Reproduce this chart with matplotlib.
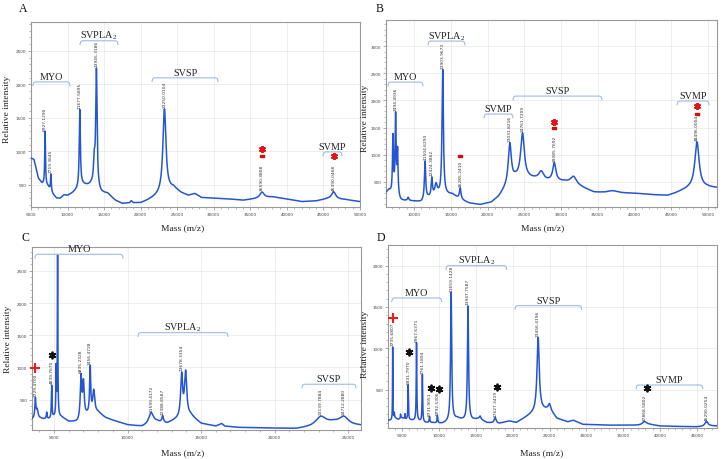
import numpy as np
import matplotlib
matplotlib.use('Agg')
import matplotlib.pyplot as plt
from matplotlib.ticker import FixedLocator, AutoMinorLocator

plt.rcParams['font.family'] = ['Liberation Serif', 'DejaVu Serif']
plt.rcParams['mathtext.fontset'] = 'custom'
plt.rcParams['mathtext.rm'] = 'Liberation Serif'
plt.rcParams['mathtext.it'] = 'Liberation Serif:italic'
plt.rcParams['mathtext.bf'] = 'Liberation Serif:bold'

# ================= Panel A =================
A_xlim = (5000, 50000)
A_ylim = (170, 2930)
A_xticks = [5000, 10000, 15000, 20000, 25000, 30000, 35000, 40000, 45000, 50000]
A_yticks = [500, 1000, 1500, 2000, 2500]
A_base_x = [5000, 5400, 6000, 6500, 7300, 8000, 8500, 9000, 9500, 10000, 10700, 11200, 12000,
            12800, 13300, 14600, 15500, 16500, 17500, 18500, 18700, 19000, 20000, 21000, 22000,
            24500, 25500, 26500, 27400, 28300, 30000, 32000, 34000, 35500, 38000, 40000, 42000,
            44000, 45500, 48000, 50000]
A_base_y = [900, 880, 600, 520, 480, 360, 300, 300, 350, 340, 380, 420, 500,
            490, 500, 380, 370, 270, 220, 230, 260, 230, 230, 270, 320,
            450, 380, 340, 370, 310, 300, 290, 270, 290, 320, 290, 250,
            260, 290, 280, 250]
A_peak_mz = [6927, 7719, 11677, 13650, 13945, 23250, 36590, 46390]
A_peak_amp = [800, 250, 1150, 350, 1750, 1250, 90, 110]
A_peak_w = [60, 60, 90, 120, 110, 250, 350, 350]
A_labels = ['6927.1290', '7719.3645', '11677.5895', '13945.3186', '23250.0104',
            '36590.3808', '46390.0468']
A_label_mz = [6927, 7719, 11677, 13945, 23250, 36590, 46390]
A_groups = ['MYO', 'SVPLA$_2$', 'SVSP', 'SVMP']
A_group_start = [5270, 11700, 21550, 44940]
A_group_end = [10330, 16900, 30580, 47540]
A_group_y = [2037, 2650, 2097, 992]
A_redbar_mz = [36590]
A_redbar_y = [933]
A_redstar_mz = [36650, 46390]
A_redstar_y = [1030, 930]
A_blackstar_mz = []
A_blackstar_y = []
A_plus_mz = []
A_plus_y = []

# ================= Panel B =================
B_xlim = (6190, 51220)
B_ylim = (40, 3480)
B_xticks = [10000, 15000, 20000, 25000, 30000, 35000, 40000, 45000, 50000]
B_yticks = [500, 1000, 1500, 2000, 2500, 3000]
B_base_x = [6190, 6600, 6900, 8200, 8600, 9500, 11000, 11800, 13300, 14500, 15200, 15800, 16800,
            17500, 19000, 20500, 21500, 22300, 23800, 25800, 26500, 28000, 30500, 32800, 34500,
            36000, 40000, 43000, 44500, 45500, 46500, 47500, 49800, 51220]
B_base_y = [300, 340, 280, 150, 150, 150, 130, 200, 250, 260, 270, 220, 150,
            110, 80, 120, 220, 350, 550, 560, 550, 520, 500, 400, 310,
            300, 290, 260, 250, 290, 340, 380, 400, 390]
B_peak_mz = [7140, 7494, 7760, 9200, 11504, 12424, 13000, 13903, 16285, 23031, 24761, 27300,
             29085, 31700, 37000, 48496]
B_peak_amp = [1050, 1450, 820, 60, 700, 330, 200, 2300, 200, 750, 830, 150, 330, 150, 40, 850]
B_peak_w = [80, 80, 80, 100, 100, 100, 200, 110, 120, 250, 300, 400, 250, 500, 800, 350]
B_labels = ['7494.4936', '11504.6293', '12424.3862', '13903.9673', '16285.2410',
            '23031.8216', '24761.7209', '29085.7692', '48496.0004']
B_label_mz = [7494, 11504, 12424, 13903, 16285, 23031, 24761, 29085, 48496]
B_groups = ['MYO', 'SVPLA$_2$', 'SVMP', 'SVSP', 'SVMP']
B_group_start = [6460, 11900, 19520, 23470, 45780]
B_group_end = [11220, 16940, 23470, 35580, 50140]
B_group_y = [2338, 3092, 1750, 2080, 1990]
B_redbar_mz = [16285, 29085, 48496]
B_redbar_y = [978, 1493, 1750]
B_redstar_mz = [29085, 48496]
B_redstar_y = [1610, 1900]
B_blackstar_mz = []
B_blackstar_y = []
B_plus_mz = []
B_plus_y = []

# ================= Panel C =================
C_xlim = (3500, 25880)
C_ylim = (30, 2870)
C_xticks = [5000, 10000, 15000, 20000, 25000]
C_yticks = [500, 1000, 1500, 2000, 2500]
C_base_x = [3500, 3900, 4300, 4700, 5000, 5500, 6000, 6600, 7200, 8000, 8500, 9000, 10000,
            11000, 11400, 12000, 12700, 13200, 14300, 15000, 16000, 16400, 16600, 17500,
            21500, 22500, 23800, 24000, 25300, 25880]
C_base_y = [200, 220, 200, 200, 230, 230, 160, 150, 250, 300, 220, 180, 110,
            80, 100, 150, 130, 180, 250, 130, 90, 130, 90, 70,
            50, 80, 140, 150, 110, 100]
C_peak_mz = [3729, 3850, 4500, 4839, 5140, 5240, 6835, 7000, 7456, 7700, 11599, 12388,
             13678, 13950, 23139, 24712]
C_peak_amp = [300, 120, 100, 500, 730, 2490, 650, 520, 720, 350, 180, 100, 650, 680, 130, 110]
C_peak_w = [40, 60, 30, 25, 20, 20, 60, 60, 45, 80, 200, 60, 80, 90, 400, 350]
C_labels = ['3729.4700', '4839.7670', '6835.2328', '7456.4728', '11599.4172', '12388.8587',
            '13678.3354', '23139.7884', '24712.2880']
C_label_mz = [3729, 4839, 6835, 7456, 11599, 12388, 13678, 23139, 24712]
C_groups = ['MYO', 'SVPLA$_2$', 'SVSP']
C_group_start = [3700, 10710, 21860]
C_group_end = [9690, 16830, 25540]
C_group_y = [2757, 1541, 740]
C_redbar_mz = []
C_redbar_y = []
C_redstar_mz = []
C_redstar_y = []
C_blackstar_mz = [4860]
C_blackstar_y = [1200]
C_plus_mz = [3700]
C_plus_y = [990]

# ================= Panel D =================
D_xlim = (3100, 47710)
D_ylim = (36, 2250)
D_xticks = [5000, 10000, 15000, 20000, 25000, 30000, 35000, 40000, 45000]
D_yticks = [500, 1000, 1500, 2000]
D_base_x = [3100, 3500, 4000, 4500, 5000, 5500, 6300, 7300, 8200, 9000, 10500, 11200, 12500,
            13400, 14500, 15500, 16500, 18200, 19500, 20500, 21500, 22500, 24000, 25000, 26000,
            27500, 28200, 29500, 33000, 37000, 38500, 40000, 45000, 46800, 47710]
D_base_y = [130, 130, 160, 140, 160, 140, 130, 120, 100, 100, 90, 110, 150,
            130, 130, 150, 100, 90, 120, 100, 150, 200, 250, 260, 150,
            110, 130, 80, 70, 70, 80, 60, 50, 60, 60]
D_peak_mz = [3735, 3950, 4800, 5400, 5831, 6967, 7761, 8731, 9792, 11659, 13947, 15600,
             17627, 23456, 25000, 37868, 46290]
D_peak_amp = [870, 60, 50, 60, 420, 940, 570, 70, 90, 1550, 1380, 30, 70, 900, 60, 40, 60]
D_peak_w = [25, 30, 30, 30, 40, 45, 45, 50, 50, 90, 90, 100, 150, 180, 200, 300, 250]
D_labels = ['3735.6807', '5831.7970', '6967.6371', '7761.1894', '8731.9051', '9792.5306',
            '11659.1428', '13947.7587', '17627.3419', '23456.4196', '37868.5802', '46290.0254']
D_label_mz = [3735, 5831, 6967, 7761, 8731, 9792, 11659, 13947, 17627, 23456, 37868, 46290]
D_groups = ['MYO', 'SVPLA$_2$', 'SVSP', 'SVMP']
D_group_start = [3600, 10960, 20320, 36730]
D_group_end = [10380, 19190, 29360, 45780]
D_group_y = [1609, 2000, 1516, 556]
D_redbar_mz = []
D_redbar_y = []
D_redstar_mz = []
D_redstar_y = []
D_blackstar_mz = [5990, 8890, 10010, 17830, 38260]
D_blackstar_y = [952, 519, 507, 535, 515]
D_plus_mz = [3780]
D_plus_y = [1367]

PANELS = {
    'A': dict(xlim=A_xlim, ylim=A_ylim, xt=A_xticks, yt=A_yticks, bx=A_base_x, by=A_base_y,
              pm=A_peak_mz, pa=A_peak_amp, pw=A_peak_w, lt=A_labels, lm=A_label_mz,
              g=A_groups, gs=A_group_start, ge=A_group_end, gy=A_group_y,
              rbm=A_redbar_mz, rby=A_redbar_y, rsm=A_redstar_mz, rsy=A_redstar_y,
              bsm=A_blackstar_mz, bsy=A_blackstar_y, pxm=A_plus_mz, pxy=A_plus_y),
    'B': dict(xlim=B_xlim, ylim=B_ylim, xt=B_xticks, yt=B_yticks, bx=B_base_x, by=B_base_y,
              pm=B_peak_mz, pa=B_peak_amp, pw=B_peak_w, lt=B_labels, lm=B_label_mz,
              g=B_groups, gs=B_group_start, ge=B_group_end, gy=B_group_y,
              rbm=B_redbar_mz, rby=B_redbar_y, rsm=B_redstar_mz, rsy=B_redstar_y,
              bsm=B_blackstar_mz, bsy=B_blackstar_y, pxm=B_plus_mz, pxy=B_plus_y),
    'C': dict(xlim=C_xlim, ylim=C_ylim, xt=C_xticks, yt=C_yticks, bx=C_base_x, by=C_base_y,
              pm=C_peak_mz, pa=C_peak_amp, pw=C_peak_w, lt=C_labels, lm=C_label_mz,
              g=C_groups, gs=C_group_start, ge=C_group_end, gy=C_group_y,
              rbm=C_redbar_mz, rby=C_redbar_y, rsm=C_redstar_mz, rsy=C_redstar_y,
              bsm=C_blackstar_mz, bsy=C_blackstar_y, pxm=C_plus_mz, pxy=C_plus_y),
    'D': dict(xlim=D_xlim, ylim=D_ylim, xt=D_xticks, yt=D_yticks, bx=D_base_x, by=D_base_y,
              pm=D_peak_mz, pa=D_peak_amp, pw=D_peak_w, lt=D_labels, lm=D_label_mz,
              g=D_groups, gs=D_group_start, ge=D_group_end, gy=D_group_y,
              rbm=D_redbar_mz, rby=D_redbar_y, rsm=D_redstar_mz, rsy=D_redstar_y,
              bsm=D_blackstar_mz, bsy=D_blackstar_y, pxm=D_plus_mz, pxy=D_plus_y),
}

W, H = 723, 460
# axes boxes in pixels: left, top, right, bottom
BOXES = {'A': (31, 23, 360, 208), 'B': (386, 21, 717, 208),
         'C': (32, 248, 361, 431), 'D': (388, 246, 717, 429)}
LETTERS = {'A': (23, 9), 'B': (380, 9), 'C': (25, 238), 'D': (381, 238)}
XLAB = {'A': (183, 228), 'B': (543, 228), 'C': (183, 453), 'D': (542, 453)}
YLAB = {'A': (7, 109), 'B': (365, 118), 'C': (8, 339), 'D': (365, 344)}

LINE_C = '#2456d3'
BRACKET_C = '#9dbde8'
bar_marker = [(-1, -0.45), (1, -0.45), (1, 0.45), (-1, 0.45), (-1, -0.45)]

fig = plt.figure(figsize=(W / 100, H / 100), dpi=100)

for key, p in PANELS.items():
    l, t, r, b = BOXES[key]
    ax = fig.add_axes([l / W, 1 - b / H, (r - l) / W, (b - t) / H])
    x = np.linspace(p['xlim'][0], p['xlim'][1], 24000)
    y = np.interp(x, p['bx'], p['by'])
    for c, a, w in zip(p['pm'], p['pa'], p['pw']):
        y = y + a / (1 + ((x - c) / w) ** 2)
    ax.plot(x, y, color=LINE_C, lw=1.1, solid_joinstyle='round', zorder=3)
    ax.set_xlim(*p['xlim'])
    ax.set_ylim(*p['ylim'])
    ax.xaxis.set_major_locator(FixedLocator(p['xt']))
    ax.yaxis.set_major_locator(FixedLocator(p['yt']))
    ax.xaxis.set_minor_locator(AutoMinorLocator(5))
    ax.yaxis.set_minor_locator(AutoMinorLocator(5))
    ax.tick_params(which='major', length=2.2, width=0.5, color='#888888', labelsize=3.0,
                   labelcolor='#444444', pad=1.3)
    ax.tick_params(which='minor', length=1.2, width=0.4, color='#888888')
    for lab in ax.get_xticklabels() + ax.get_yticklabels():
        lab.set_fontfamily('DejaVu Sans')
    ax.grid(True, which='major', color='#e8e8e8', lw=0.5, zorder=0)
    for s in ax.spines.values():
        s.set_color('#999999')
        s.set_linewidth(0.8)

    xr = p['xlim'][1] - p['xlim'][0]
    yr = p['ylim'][1] - p['ylim'][0]
    # peak labels
    for txt, m in zip(p['lt'], p['lm']):
        win = (x > m - xr * 0.004) & (x < m + xr * 0.004)
        top = y[win].max()
        ax.annotate(txt, (m, top), xytext=(0, 1.2), textcoords='offset points',
                    rotation=90, ha='center', va='bottom', fontsize=3.2,
                    family='DejaVu Sans', color='#333333', zorder=4)
    # brackets
    d = 0.02 * yr
    rr = 0.007 * xr
    for name, s0, s1, gy in zip(p['g'], p['gs'], p['ge'], p['gy']):
        ax.plot([s0, s0 + rr * 0.3, s0 + rr, s1 - rr, s1 - rr * 0.3, s1],
                [gy - d, gy - d * 0.25, gy, gy, gy - d * 0.25, gy - d],
                color=BRACKET_C, lw=0.8, clip_on=False, zorder=4)
        ax.annotate(name, ((s0 + s1) / 2, gy), xytext=(0, 2.2), textcoords='offset points',
                    ha='center', va='baseline', fontsize=7.3, color='#222222',
                    annotation_clip=False, zorder=5)
    # markers
    if p['rbm']:
        ax.plot(p['rbm'], p['rby'], ls='none', marker=bar_marker, ms=3.2, color='#d01010',
                mec='#d01010', zorder=6)
    if p['rsm']:
        ax.plot(p['rsm'], p['rsy'], ls='none', marker=(6, 2, 0), ms=5, mew=1.4,
                color='#e01515', zorder=6)
    if p['bsm']:
        ax.plot(p['bsm'], p['bsy'], ls='none', marker=(6, 2, 0), ms=5.5, mew=1.3,
                color='#111111', zorder=6)
    if p['pxm']:
        ax.plot(p['pxm'], p['pxy'], ls='none', marker='+', ms=7, mew=1.5,
                color='#ee1c1c', zorder=6, clip_on=False)

    lx, ly = LETTERS[key]
    fig.text(lx / W, 1 - ly / H, key, ha='center', va='center', fontsize=8.5, color='#111111')
    xx, xy = XLAB[key]
    fig.text(xx / W, 1 - xy / H, 'Mass (m/z)', ha='center', va='center', fontsize=6.8,
             color='#222222')
    yx, yy = YLAB[key]
    fig.text(yx / W, 1 - yy / H, 'Relative intensity', ha='center', va='center',
             rotation=90, fontsize=6.8, color='#222222')

fig.savefig('out.png', dpi=100)
